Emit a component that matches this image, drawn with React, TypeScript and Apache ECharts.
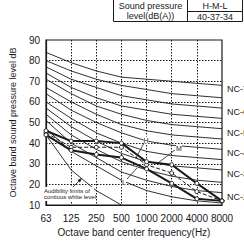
import React, { useEffect, useRef } from "react";
import * as echarts from "echarts";

const frequencies = ["63", "125", "250", "500", "1000", "2000", "4000", "8000"];
const yTicks = [10, 20, 30, 40, 50, 60, 70, 80, 90];

const nc15 = [47, 36, 29, 22, 17, 14, 12, 11];
const nc20 = [51, 40, 33, 26, 22, 19, 17, 16];
const nc25 = [54, 44, 37, 31, 27, 24, 22, 21];
const nc30 = [57, 48, 41, 35, 31, 29, 28, 27];
const nc35 = [60, 52, 45, 40, 36, 34, 33, 32];
const nc40 = [64, 56, 50, 45, 41, 39, 38, 37];
const nc45 = [67, 60, 54, 49, 46, 44, 43, 42];
const nc50 = [71, 64, 58, 54, 51, 49, 48, 47];
const nc55 = [74, 67, 62, 58, 56, 54, 53, 52];
const nc60 = [77, 71, 67, 63, 61, 59, 58, 57];
const nc65 = [80, 75, 71, 68, 66, 64, 63, 62];
const nc70 = [84, 79, 75, 72, 71, 70, 69, 68];

const hCurve = [46, 41, 41, 40, 31, 29.5, 20.5, 12];
const mCurve = [45, 38, 38, 38, 29.5, 25.5, 16.5, 12];
const lCurve = [44, 36.5, 34.5, 33, 27.5, 20.5, 13, 12];
const audibility = [44, 27, 17, 10, null, null, null, null];

const ncCurves: [string, number[]][] = [
  ["NC-15", nc15], ["NC-20", nc20], ["NC-25", nc25], ["NC-30", nc30],
  ["NC-35", nc35], ["NC-40", nc40], ["NC-45", nc45], ["NC-50", nc50],
  ["NC-55", nc55], ["NC-60", nc60], ["NC-65", nc65], ["NC-70", nc70],
];
const labeledNC = ["NC-20", "NC-30", "NC-40", "NC-50", "NC-60", "NC-70"];

const FONT = "'Liberation Sans', Arial, sans-serif";
const INK = "#1a1a1a";

export default function App() {
  const ref = useRef<HTMLDivElement>(null);
  useEffect(() => {
    if (!ref.current) return;
    const chart = echarts.init(ref.current, null, { renderer: "svg" });
    const ncSeries = ncCurves.map(([name, data]) => ({
      name,
      type: "line",
      data,
      symbol: "none",
      silent: true,
      z: 2,
      lineStyle: { color: INK, width: 0.9 },
      endLabel: {
        show: labeledNC.includes(name),
        formatter: name,
        color: INK,
        fontSize: 9,
        fontFamily: FONT,
        distance: 5,
        offset: [0, 4],
      },
    }));
    const markerStyle = { color: "#fff", borderColor: INK, borderWidth: 1 };
    chart.setOption({
      animation: false,
      textStyle: { fontFamily: FONT },
      grid: {
        left: 42,
        right: 22,
        top: 40,
        bottom: 41,
        show: true,
        borderColor: INK,
        borderWidth: 1.2,
        backgroundColor: "transparent",
      },
      xAxis: {
        type: "category",
        data: frequencies,
        boundaryGap: false,
        name: "Octave band center frequency(Hz)",
        nameLocation: "middle",
        nameGap: 22,
        nameTextStyle: { fontSize: 10, color: INK, fontFamily: FONT },
        axisLine: { show: true, lineStyle: { color: INK, width: 1.2 } },
        axisTick: { show: false },
        axisLabel: { fontSize: 10, color: INK, margin: 8, fontFamily: FONT, interval: 0, hideOverlap: false },
        splitLine: {
          show: true,
          interval: 0,
          showMinLine: false,
          showMaxLine: false,
          lineStyle: { color: INK, type: [1.5, 1.5], width: 1 },
        },
      },
      yAxis: {
        type: "value",
        min: yTicks[0],
        max: yTicks[yTicks.length - 1],
        interval: 10,
        name: "Octave band sound pressure level dB",
        nameLocation: "middle",
        nameGap: 29,
        nameTextStyle: { fontSize: 9, color: INK, fontFamily: FONT },
        axisLine: { show: true, lineStyle: { color: INK, width: 1.2 } },
        axisTick: { show: false },
        axisLabel: { fontSize: 10, color: INK, margin: 6, fontFamily: FONT },
        splitLine: {
          show: true,
          showMinLine: false,
          showMaxLine: false,
          lineStyle: { color: INK, type: [1.5, 1.5], width: 1 },
        },
      },
      series: [
        ...ncSeries,
        {
          name: "Audibility",
          type: "line",
          data: audibility,
          symbol: "none",
          z: 2,
          lineStyle: { color: INK, width: 0.9 },
        },
        {
          name: "H",
          type: "line",
          data: hCurve,
          symbol: "circle",
          symbolSize: 4,
          z: 4,
          itemStyle: markerStyle,
          lineStyle: { color: INK, width: 2 },
        },
        {
          name: "M",
          type: "line",
          data: mCurve,
          symbol: "circle",
          symbolSize: 4,
          z: 3,
          itemStyle: markerStyle,
          lineStyle: { color: INK, width: 1, type: [4, 2] },
        },
        {
          name: "L",
          type: "line",
          data: lCurve,
          symbol: "circle",
          symbolSize: 4,
          z: 4,
          itemStyle: markerStyle,
          lineStyle: { color: INK, width: 2 },
        },
      ],
      graphic: [
        // table
        { type: "line", shape: { x1: 113.5, y1: 0, x2: 113.5, y2: 21.5 }, style: { stroke: INK, lineWidth: 1 } },
        { type: "line", shape: { x1: 187.5, y1: 0, x2: 187.5, y2: 21.5 }, style: { stroke: INK, lineWidth: 1 } },
        { type: "line", shape: { x1: 242.5, y1: 0, x2: 242.5, y2: 21.5 }, style: { stroke: INK, lineWidth: 1 } },
        { type: "line", shape: { x1: 113.5, y1: 21.5, x2: 242.5, y2: 21.5 }, style: { stroke: INK, lineWidth: 1 } },
        { type: "line", shape: { x1: 187.5, y1: 11.5, x2: 242.5, y2: 11.5 }, style: { stroke: INK, lineWidth: 1 } },
        { type: "text", x: 150.5, y: 6, style: { text: "Sound pressure", fill: INK, fontSize: 9, fontFamily: FONT, align: "center", verticalAlign: "middle" } },
        { type: "text", x: 150.5, y: 16, style: { text: "level(dB(A))", fill: INK, fontSize: 9, fontFamily: FONT, align: "center", verticalAlign: "middle" } },
        { type: "text", x: 215, y: 6, style: { text: "H-M-L", fill: INK, fontSize: 9, fontFamily: FONT, align: "center", verticalAlign: "middle" } },
        { type: "text", x: 215, y: 16.5, style: { text: "40-37-34", fill: INK, fontSize: 9, fontFamily: FONT, align: "center", verticalAlign: "middle" } },
        // H M L labels
        { type: "text", x: 146, y: 140, z: 10, style: { text: "H", fill: INK, fontSize: 7, fontFamily: FONT, align: "center", verticalAlign: "middle", backgroundColor: "#fff" } },
        { type: "line", z: 10, shape: { x1: 144, y1: 143, x2: 136, y2: 158 }, style: { stroke: INK, lineWidth: 0.8 } },
        { type: "text", x: 179, y: 148, z: 10, style: { text: "M", fill: INK, fontSize: 7, fontFamily: FONT, align: "center", verticalAlign: "middle", backgroundColor: "#fff" } },
        { type: "line", z: 10, shape: { x1: 175, y1: 150, x2: 158, y2: 163 }, style: { stroke: INK, lineWidth: 0.8 } },
        { type: "text", x: 124, y: 182, z: 10, style: { text: "L", fill: INK, fontSize: 7, fontFamily: FONT, align: "center", verticalAlign: "middle", backgroundColor: "#fff" } },
        { type: "line", z: 10, shape: { x1: 127, y1: 179, x2: 137, y2: 168 }, style: { stroke: INK, lineWidth: 0.8 } },
        // audibility note
        { type: "rect", z: 10, shape: { x: 43, y: 187, width: 51, height: 14 }, style: { fill: "#fff", stroke: "none" } },
        { type: "text", x: 44, y: 190.5, z: 11, style: { text: "Audibility limits of", fill: INK, fontSize: 6, fontFamily: FONT, verticalAlign: "middle" } },
        { type: "text", x: 44, y: 196.5, z: 11, style: { text: "contious white level", fill: INK, fontSize: 6, fontFamily: FONT, verticalAlign: "middle" } },
        { type: "line", z: 11, shape: { x1: 73, y1: 187, x2: 81, y2: 179 }, style: { stroke: INK, lineWidth: 0.8 } },
        { type: "polygon", z: 11, shape: { points: [[82, 178], [77.5, 180], [80, 182.5]] }, style: { fill: INK } },
      ],
    });
    return () => chart.dispose();
  }, []);
  return (
    <div
      ref={ref}
      style={{ position: "absolute", left: 0, top: 0, width: 244, height: 246 }}
    />
  );
}
